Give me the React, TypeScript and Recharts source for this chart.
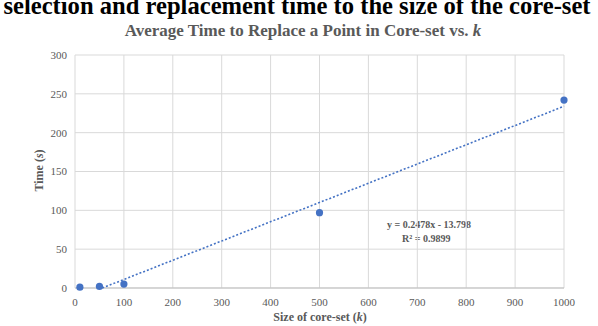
import React from "react";
import {
    ScatterChart,
    Scatter,
    XAxis,
    YAxis,
    CartesianGrid,
} from "recharts";

const coreSetSizes = [10, 50, 100, 500, 1000];
const avgTimes = [1, 2, 5, 97, 242];
const trendX = [55.7, 1000];
const trendY = [0, 234];
const xTicks = [0, 100, 200, 300, 400, 500, 600, 700, 800, 900, 1000];
const yTicks = [0, 50, 100, 150, 200, 250, 300];

const points = coreSetSizes.map((k, i) => ({ k, t: avgTimes[i] }));
const trend = trendX.map((k, i) => ({ k, t: trendY[i] }));

const serif = "'Liberation Serif', 'Times New Roman', serif";
const blue = "#4472C4";
const grey = "#595959";

export default function App() {
    return (
        <div style={{ position: "absolute", left: 0, top: 0, width: 598, height: 326, background: "#fff", overflow: "hidden", fontFamily: serif }}>
            <div style={{ position: "absolute", left: -4, width: 602, top: -8, textAlign: "center", fontSize: 24.6, fontWeight: "bold", color: "#000", whiteSpace: "nowrap" }}>
                selection and replacement time to the size of the core-set
            </div>
            <div style={{ position: "absolute", left: 0, width: 606, top: 21, textAlign: "center", fontSize: 17, fontWeight: "bold", color: grey }}>
                Average Time to Replace a Point in Core-set vs. <i>k</i>
            </div>
            <div style={{ position: "absolute", left: 14, top: 163, width: 50, transform: "rotate(-90deg)", transformOrigin: "center", textAlign: "center", fontSize: 12, fontWeight: "bold", color: grey }}>
                Time (<i>s</i>)
            </div>
            <div style={{ position: "absolute", left: 220, width: 200, top: 310, textAlign: "center", fontSize: 12, fontWeight: "bold", color: grey }}>
                Size of core-set (<i>k</i>)
            </div>
            <div style={{ position: "absolute", left: 387, top: 218, fontSize: 10, fontWeight: "bold", color: grey, lineHeight: "14px" }}>
                y = 0.2478x - 13.798
                <div style={{ paddingLeft: 15 }}>R² = 0.9899</div>
            </div>
            <ScatterChart
                width={598}
                height={326}
                margin={{ top: 55, right: 34, left: 35, bottom: 18 }}
                style={{ position: "absolute", left: 0, top: 0, fontFamily: serif }}
            >
                <CartesianGrid stroke="#d9d9d9" />
                <XAxis
                    type="number"
                    dataKey="k"
                    domain={[0, 1000]}
                    ticks={xTicks}
                    height={20}
                    axisLine={{ stroke: "#bfbfbf" }}
                    tickLine={false}
                    tick={{ fill: grey, fontSize: 11, fontFamily: serif }}
                    tickMargin={4}
                />
                <YAxis
                    type="number"
                    dataKey="t"
                    domain={[0, 300]}
                    ticks={yTicks}
                    width={40}
                    axisLine={false}
                    tickLine={false}
                    tick={{ fill: grey, fontSize: 11, fontFamily: serif }}
                    tickMargin={2}
                />
                <Scatter
                    data={trend}
                    line={{ stroke: blue, strokeWidth: 1.6, strokeDasharray: "2 2" }}
                    shape={() => <g />}
                    isAnimationActive={false}
                />
                <Scatter
                    data={points}
                    fill={blue}
                    shape={(p: any) => <circle cx={p.cx} cy={p.cy} r={3.6} fill={blue} />}
                    isAnimationActive={false}
                />
            </ScatterChart>
        </div>
    );
}
